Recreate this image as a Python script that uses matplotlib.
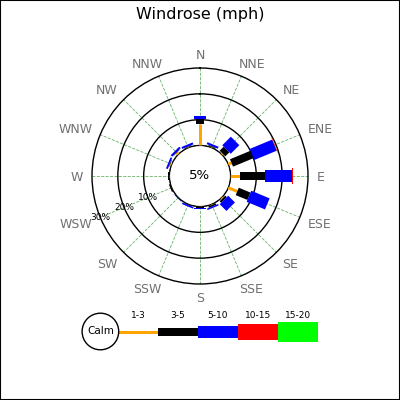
import matplotlib
matplotlib.use("Agg")
import matplotlib.pyplot as plt
import matplotlib.transforms as mtransforms
import numpy as np
from matplotlib.patches import Circle, Rectangle

# ---- data (percent of observations) ----
directions = ["N", "NNE", "NE", "ENE", "E", "ESE", "SE", "SSE",
              "S", "SSW", "SW", "WSW", "W", "WNW", "NW", "NNW"]
speed_bins = ["1-3", "3-5", "5-10", "10-15", "15-20"]
bin_colors = ["#ffa500", "#000000", "#0000ff", "#ff0000", "#00ff00"]
bin_widths_px = [3, 8, 12, 16, 20]

s1_3 = [8.5, 0.3, 0.5, 1.4, 3.5, 3.8, 0.5, 0.3, 0.1, 0.1, 0.1, 0.1, 0.1, 0.6, 0.9, 0.3]
s3_5 = [1.6, 0.3, 2.2, 8.6, 10.0, 4.9, 0.8, 0.6, 0.3, 0.2, 0.2, 0.5, 0.6, 0.2, 0.2, 0.2]
s5_10 = [1.3, 0.8, 4.7, 9.4, 10.4, 7.7, 3.7, 0.6, 0.7, 0.6, 0.1, 0, 0, 0.7, 0.8, 0.8]
s10_15 = [0, 0, 0, 0.2, 0.2, 0, 0, 0, 0, 0, 0, 0, 0, 0, 0, 0]
s15_20 = [0] * 16
calm_pct = 5
rings = [10, 20, 30]

DPI = 100
PX = 72.0 / DPI  # pixels -> points
R_ORIGIN = -11.8

fig = plt.figure(figsize=(4, 4), dpi=DPI)

# ---- the rose ----
ax = fig.add_axes([0.23, 0.29, 0.54, 0.54], projection="polar")
ax.set_theta_zero_location("N")
ax.set_theta_direction(-1)
ax.set_ylim(0, rings[-1])
ax.set_rorigin(R_ORIGIN)

theta = np.radians(np.arange(len(directions)) * 22.5)
ax.set_xticks(theta)
ax.set_xticklabels([])
ax.set_yticks(rings[:-1])
ax.set_yticklabels([])
ax.xaxis.grid(True, color="green", linestyle="--", linewidth=0.6, alpha=0.6)
ax.yaxis.grid(True, color="black", linestyle="-", linewidth=1.0)
ax.spines["polar"].set_linewidth(1.0)
for name in ("start", "end", "inner"):
    if name in ax.spines:
        ax.spines[name].set_visible(False)

# calm circle
circ = np.linspace(0, 2 * np.pi, 300)
ax.plot(circ, np.zeros_like(circ), color="black", lw=1.0, zorder=3)

series = [s1_3, s3_5, s5_10, s10_15, s15_20]
base = np.zeros(len(directions))
for vals, col, wpx in zip(series, bin_colors, bin_widths_px):
    vals = np.array(vals, dtype=float)
    for t, b, v in zip(theta, base, vals):
        if v > 0:
            ax.plot([t, t], [b, b + v], color=col, lw=wpx * PX,
                    solid_capstyle="butt", zorder=4)
    base = base + vals

# compass labels: anchored on a circle of ~116.6 px, pushed outwards
radius_px = 0.54 * 4 * DPI / 2
px_per_unit = radius_px / (rings[-1] - R_ORIGIN)
r_anchor = 116.6 / px_per_unit + R_ORIGIN
cap_px = 0.729 * 9 / PX
renderer = fig.canvas.get_renderer()
for t, lab in zip(theta, directions):
    probe = ax.text(0, 0, lab, fontsize=9)
    w = probe.get_window_extent(renderer).width
    probe.remove()
    fx = np.clip(np.sin(t) / 0.7, -1, 1)
    fy = np.clip(np.cos(t) / 0.7, -1, 1)
    dx = w / 2 * fx
    dy = cap_px / 2 * fy - cap_px / 2
    tr = mtransforms.offset_copy(ax.transData, fig=fig, x=dx * PX,
                                 y=dy * PX, units="points")
    ax.text(t, r_anchor, lab, color="#707070", fontsize=9, transform=tr,
            ha="center", va="baseline", clip_on=False)

rlab_theta = np.radians(247.5)
for r in rings:
    ax.text(rlab_theta, r, f"{r}%", fontsize=6.5, ha="center", va="center",
            zorder=5)

fig.text(0.5, 1 - 176 / 400, f"{calm_pct}%", fontsize=9.5,
         ha="center", va="center")
fig.text(0.5, 1 - 15 / 400, "Windrose (mph)", fontsize=11.5,
         ha="center", va="center")

# ---- legend strip ----
lax = fig.add_axes([0.175, 0.09625, 0.65, 0.15])
lax.set_xlim(-1.2, 5.3)
lax.set_ylim(-0.75, 0.75)
lax.axis("off")
lax.add_patch(Circle((-0.44, 0), 0.4575, facecolor="white",
                     edgecolor="black", lw=1.0, zorder=3))
lax.text(-0.44, 0, "Calm", fontsize=7.5, ha="center", va="center", zorder=4)
for k, (lab, col, wpx) in enumerate(zip(speed_bins, bin_colors, bin_widths_px)):
    lax.plot([k, k + 1], [0, 0], color=col, lw=wpx * PX,
             solid_capstyle="butt")
    lax.text(k + 0.5, 0.41, lab, fontsize=6.5, ha="center", va="center")

fig.add_artist(Rectangle((0, 0), 1, 1, transform=fig.transFigure,
                         fill=False, edgecolor="black", lw=1.5))

fig.savefig("out.png", dpi=DPI)
